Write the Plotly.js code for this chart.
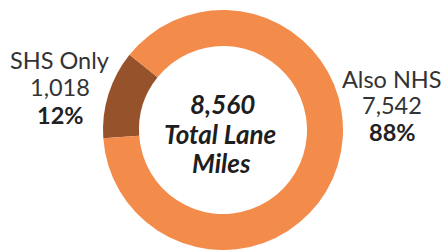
<!DOCTYPE html>
<html>
<head>
<meta charset="utf-8">
<script src="https://cdn.plot.ly/plotly-3.0.1.min.js"></script>
<style>
html,body{margin:0;padding:0;background:#fff;}
#chart{width:446px;height:251px;}
</style>
</head>
<body>
<div id="chart"></div>
<script>
// Data
var categories = ["SHS Only", "Also NHS"];
var laneMiles = [1018, 7542];
var valueLabels = ["1,018", "7,542"];
var percentLabels = ["12%", "88%"];
var sliceColors = ["#96522A", "#F38B4B"];
var centerLines = ["8,560", "Total Lane", "Miles"];

var W = 446, H = 251;
function py(p){ return 1 - p / H; }
function px(p){ return p / W; }

var trace = {
  type: "pie",
  labels: categories,
  values: laneMiles,
  hole: 0.70,
  sort: false,
  direction: "clockwise",
  rotation: 266,
  textinfo: "none",
  hoverinfo: "none",
  marker: { colors: sliceColors, line: { width: 0 } },
  domain: { x: [px(103), px(343)], y: [py(250), py(10)] },
  showlegend: false
};

var sideFont = { family: "Lato, 'Open Sans', sans-serif", size: 23.5, color: "#333333", weight: 400 };
var boldFont = { family: "Lato, 'Open Sans', sans-serif", size: 23.5, color: "#222222", weight: 700 };
var centerFont = { family: "Lato, 'Open Sans', sans-serif", size: 26, color: "#1e1e1e", weight: 700, style: "italic" };

function ann(text, x, y, font) {
  return { text: text, x: px(x), y: py(y), xref: "paper", yref: "paper",
           xanchor: "center", yanchor: "middle", showarrow: false, font: font };
}

var annotations = [
  ann(categories[0], 59, 60, sideFont),
  ann(valueLabels[0], 60, 87, sideFont),
  ann("<b>" + percentLabels[0] + "</b>", 60, 115, boldFont),
  ann(categories[1], 392, 79, sideFont),
  ann(valueLabels[1], 392, 105, sideFont),
  ann("<b>" + percentLabels[1] + "</b>", 392, 132, boldFont),
  ann("<b><i>" + centerLines[0] + "</i></b>", 222, 104, centerFont),
  ann("<b><i>" + centerLines[1] + "</i></b>", 220, 134, centerFont),
  ann("<b><i>" + centerLines[2] + "</i></b>", 221, 163, centerFont)
];

var layout = {
  width: W, height: H,
  margin: { l: 0, r: 0, t: 0, b: 0 },
  paper_bgcolor: "#ffffff",
  plot_bgcolor: "#ffffff",
  annotations: annotations,
  showlegend: false
};

Plotly.newPlot("chart", [trace], layout, { displayModeBar: false, staticPlot: true });
</script>
</body>
</html>
